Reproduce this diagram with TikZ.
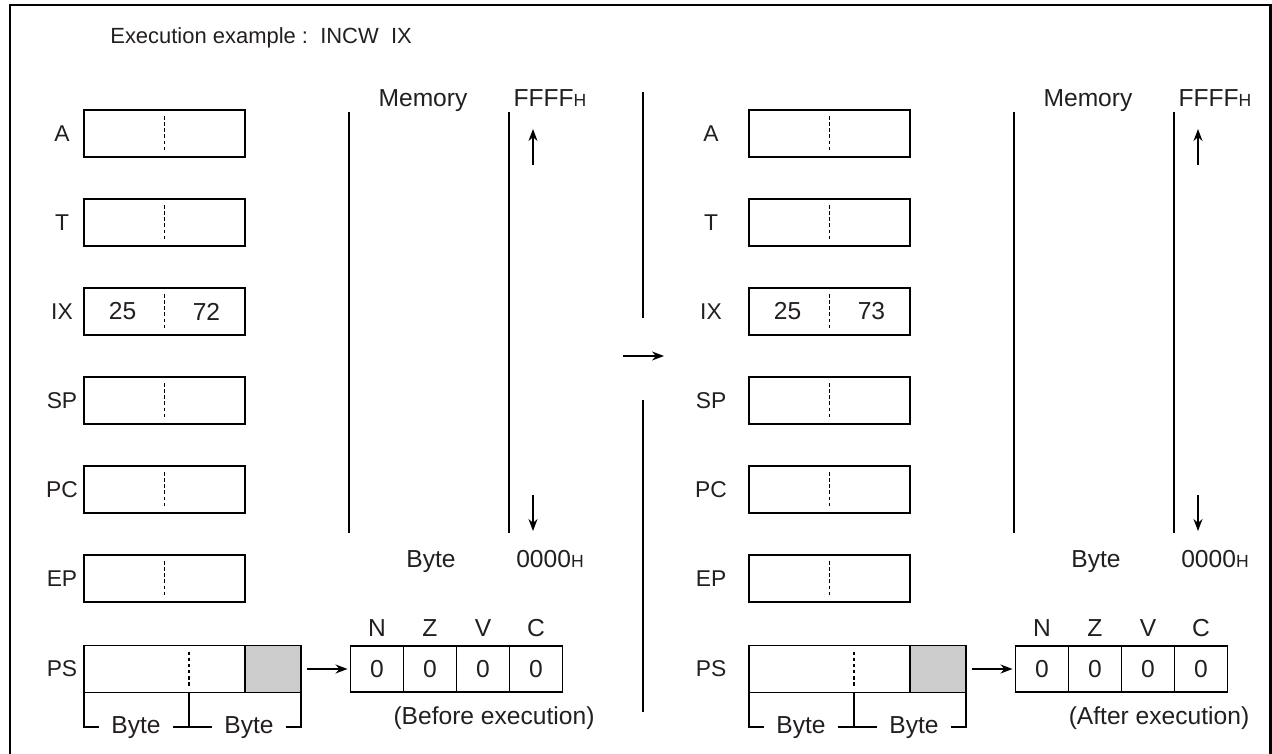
\documentclass[tikz,border=0pt]{standalone}
\usepackage{fontspec}
\setmainfont{Liberation Sans}
\usetikzlibrary{arrows.meta,positioning}
\definecolor{inkgray}{HTML}{231F20}
\definecolor{flaggray}{HTML}{CCCCCC}
\newcommand{\hexH}{{\fontsize{10}{12}\selectfont H}}

\begin{document}
\begin{tikzpicture}[x=0.02cm, y=-0.02cm,
    >={Stealth[length=0.24cm,width=0.18cm]},
    every node/.style={font=\fontsize{14}{16}\selectfont, text=inkgray},
    regbox/.style={draw, line width=0.7pt, minimum width=3.22cm, minimum height=0.94cm, inner sep=0pt, outer sep=0pt},
    psbox/.style={regbox, minimum width=4.34cm},
    psflag/.style={draw, line width=0.7pt, fill=flaggray, minimum width=1.12cm, minimum height=0.94cm, inner sep=0pt, outer sep=0pt},
    flagcell/.style={draw, line width=0.7pt, minimum width=1.06cm, minimum height=0.92cm, inner sep=0pt, outer sep=0pt},
    reglbl/.style={font=\fontsize{13}{15}\selectfont},
    bytelbl/.style={inner xsep=0.24cm, inner ysep=0pt, anchor=base},
    divline/.style={dash pattern=on 2pt off 1.5pt, line width=0.6pt},
    memline/.style={line width=0.8pt},
    link/.style={->, line width=0.7pt}]
  \useasboundingbox (0,0) rectangle (1272,754);

  % outer frame
  \draw[line width=1.7pt] (10,754) -- (10,5) -- (1270,5) -- (1270,754);

  \node[anchor=base west, inner sep=0pt, font=\fontsize{12.5}{15}\selectfont] (title) at (110,43)
    {Execution example :\ \ INCW\ \ IX};

  % before / after panels
  \foreach \p/\dx/\lx/\ixv/\capt in {L/0/62/72/Before execution, R/665/711/73/After execution} {
    % registers
    \foreach \r/\yy in {A/133.5, T/222.5, IX/311.5, SP/400.5, PC/489.5, EP/578.5} {
      \node[regbox] (\r\p) at (\dx+164.5,\yy) {};
      \node[reglbl] (lbl\r\p) at (\lx,\yy) {\r};
      \draw[divline] ([yshift=-0.12cm]\r\p.north) -- ([yshift=0.13cm]\r\p.south);
    }
    \node (hi\p) at ([xshift=-0.84cm]IX\p.center) {25};
    \node (lo\p) at ([xshift=0.84cm]IX\p.center) {\ixv};

    % program status
    \node[psbox] (PS\p) at (\dx+192.5,669) {};
    \node[psflag, anchor=east] (ccr\p) at (PS\p.east) {};
    \node[reglbl] (lblPS\p) at (\lx,669) {PS};
    \coordinate (psmid\p) at ([xshift=2.1cm]PS\p.south west);
    \draw[divline] ([yshift=-0.12cm]psmid\p |- PS\p.north) -- ([yshift=0.13cm]psmid\p);
    \node[bytelbl] (byteA\p) at (\dx+136,733) {Byte};
    \node[bytelbl] (byteB\p) at (\dx+249,733) {Byte};
    \draw[line width=0.7pt] (PS\p.south west) |- (byteA\p.west);
    \draw[line width=0.7pt] (byteA\p.east) -- (byteB\p.west);
    \draw[line width=0.7pt] (psmid\p) -- (psmid\p |- byteA\p.west);
    \draw[line width=0.7pt] (byteB\p.east) -| (PS\p.south east);

    % condition flags
    \node[flagcell] (fN\p) at (\dx+377,669) {0};
    \node[flagcell, right=0pt of fN\p] (fZ\p) {0};
    \node[flagcell, right=0pt of fZ\p] (fV\p) {0};
    \node[flagcell, right=0pt of fV\p] (fC\p) {0};
    \foreach \f in {N,Z,V,C}
      \node[above=0.06cm of f\f\p] (lbl\f\p) {\f};
    \draw[link, shorten <=0.12cm, shorten >=0.06cm] (PS\p.east) -- (fN\p.west);
    \node (cap\p) at (\dx+494,718) {(\capt)};

    % memory
    \coordinate (memAtop\p) at (\dx+349,112);
    \coordinate (memAbot\p) at (\dx+349,533);
    \coordinate (memBtop\p) at (\dx+509,112);
    \coordinate (memBbot\p) at (\dx+509,533);
    \draw[memline] (memAtop\p) -- (memAbot\p);
    \draw[memline] (memBtop\p) -- (memBbot\p);
    \node[anchor=base] (mem\p) at (\dx+423,106) {Memory};
    \node[anchor=base] (top\p) at (\dx+550,106) {FFFF\hexH};
    \node[anchor=base] (unit\p) at (\dx+431,567) {Byte};
    \node[anchor=base] (bot\p) at (\dx+550,567) {0000\hexH};
    \coordinate (upS\p) at (\dx+533,165);
    \coordinate (upE\p) at (\dx+533,129);
    \coordinate (dnS\p) at (\dx+533,495);
    \coordinate (dnE\p) at (\dx+533,531);
    \draw[link] (upS\p) -- (upE\p);
    \draw[link] (dnS\p) -- (dnE\p);
  }

  % step between the two states
  \coordinate (sepA) at (643,92);
  \coordinate (sepB) at (643,318);
  \coordinate (sepC) at (643,400);
  \coordinate (sepD) at (643,712);
  \draw[memline] (sepA) -- (sepB);
  \draw[memline] (sepC) -- (sepD);
  \coordinate (stepS) at (623,356);
  \coordinate (stepE) at (664,356);
  \draw[link] (stepS) -- (stepE);
\end{tikzpicture}
\end{document}
